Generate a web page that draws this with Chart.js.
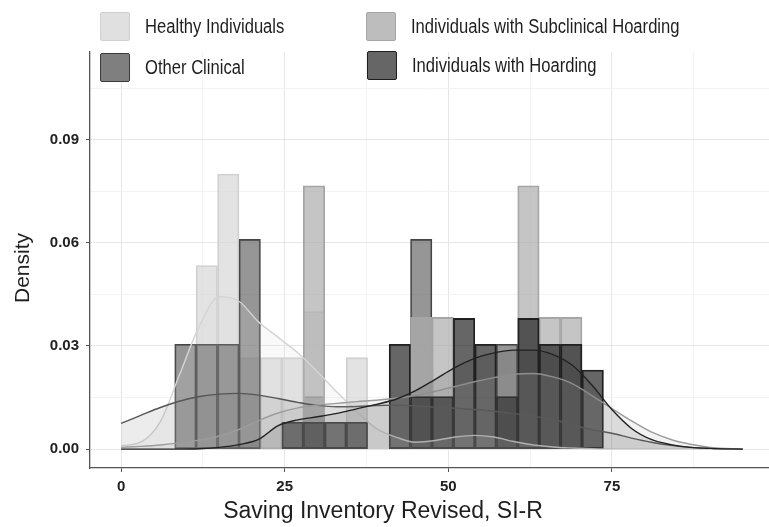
<!DOCTYPE html>
<html>
<head>
<meta charset="utf-8">
<script src="https://cdn.jsdelivr.net/npm/chart.js@4.4.1/dist/chart.umd.min.js"></script>
<style>
html,body{margin:0;padding:0;background:#fff;}
#wrap{position:relative;width:769px;height:527px;overflow:hidden;}
#c{position:absolute;left:0;top:0;}
.leg{position:absolute;display:flex;align-items:center;font-family:"Liberation Sans",sans-serif;font-size:20px;color:#1e1e1e;white-space:nowrap;}
.leg span{display:inline-block;transform:scaleX(0.83);transform-origin:left center;}
.key{width:30px;height:29px;box-sizing:border-box;border:1.5px solid;border-radius:2px;margin-right:15px;flex:none;}
.ttl{position:absolute;font-family:"Liberation Sans",sans-serif;color:#1e1e1e;white-space:nowrap;}
</style>
</head>
<body>
<div id="wrap">
<canvas id="c" width="769" height="527"></canvas>
<div id="legend"></div>
<div class="ttl" id="xtitle"></div>
<div class="ttl" id="ytitle"></div>
</div>
<script>
// ---------- data ----------
const groups = ["Healthy Individuals", "Other Clinical", "Individuals with Subclinical Hoarding", "Individuals with Hoarding"];
const xAxisTitle = "Saving Inventory Revised, SI-R";
const yAxisTitle = "Density";
const xTickLabels = [0, 25, 50, 75];
const yTickLabels = [0.00, 0.03, 0.06, 0.09];

// histogram bin centres (SI-R)
const binCentres = [0, 3.28, 6.55, 9.83, 13.10, 16.38, 19.66, 22.93, 26.21, 29.48,
                    32.76, 36.03, 39.31, 42.59, 45.86, 49.14, 52.41, 55.69, 58.97, 62.24,
                    65.52, 68.79, 72.07, 75.34, 78.62, 81.90, 85.17, 88.45, 91.72, 95.00];
// histogram densities per bin
const histHealthy     = [0,0,0,0,0.0534,0.080,0.0266,0.0266,0.0266,0.040, 0,0.0266,0,0,0,0,0,0,0,0, 0,0,0,0,0,0,0,0,0,0];
const histOther       = [0,0,0,0.0305,0.0305,0.0305,0.061,0,0,0.0153, 0,0,0,0,0.061,0,0,0,0.0305,0, 0,0,0,0,0,0,0,0,0,0];
const histSubclinical = [0,0,0,0,0,0,0,0,0,0.0766, 0,0,0,0,0.0383,0.0383,0,0,0,0.0766, 0.0383,0.0383,0,0,0,0,0,0,0,0];
const histHoarding    = [0,0,0,0,0,0,0,0,0.0078,0.0078, 0.0078,0.0078,0,0.0305,0.0153,0.0153,0.038,0.0305,0.0153,0.038, 0.0305,0.0305,0.023,0,0,0,0,0,0,0];

// kernel density curves
const densX = [0,3,6,9,12,15,18,21,24,27,30,33,36,39,42,45,48,51,54,57,60,63,66,69,72,75,78,81,84,87,90,95];
const densHealthy     = [0.001,0.002,0.008,0.022,0.036,0.0443,0.043,0.037,0.0325,0.028,0.0225,0.0165,0.011,0.006,0.0035,0.002,0.0025,0.0035,0.004,0.0035,0.0022,0.0012,0.0006,0.0003,0.0001,0,0,0,0,0,0,0];
const densOther       = [0.0075,0.0098,0.0121,0.014,0.0153,0.016,0.0162,0.0157,0.0147,0.0136,0.0127,0.0123,0.0124,0.0127,0.0128,0.0126,0.0122,0.0119,0.0115,0.011,0.0103,0.0096,0.0086,0.007,0.0056,0.0046,0.0032,0.002,0.0011,0.0005,0.0002,0];
const densSubclinical = [0.0005,0.0008,0.0012,0.0018,0.0026,0.0038,0.0057,0.0083,0.0105,0.012,0.0128,0.0133,0.0138,0.0142,0.0148,0.0156,0.0168,0.0182,0.0196,0.0208,0.0218,0.022,0.021,0.019,0.0155,0.0118,0.0082,0.005,0.0028,0.0014,0.0005,0];
const densHoarding    = [0,0,0,0,0.0001,0.0005,0.0013,0.0028,0.0068,0.0085,0.0094,0.0104,0.0117,0.013,0.0145,0.017,0.0203,0.0237,0.0264,0.028,0.0288,0.0288,0.0275,0.0243,0.0185,0.0115,0.006,0.0028,0.0013,0.0005,0.0002,0];

// ---------- styles ----------
const barFill   = ["rgba(215,215,215,0.7)", "rgba(100,100,100,0.68)", "rgba(172,172,172,0.7)", "rgba(30,30,30,0.68)"];
const barLine   = ["#cfcfcf", "#444444", "#a4a4a4", "#222222"];
const densFill  = ["rgba(215,215,215,0.16)", "rgba(100,100,100,0.12)", "rgba(172,172,172,0.14)", "rgba(30,30,30,0.11)"];
const densLine  = ["#d4d4d4", "#555555", "#9c9c9c", "#222222"];
const keyFill   = ["#e0e0e0", "#7f7f7f", "#bdbdbd", "#666666"];
const keyLine   = ["#d0d0d0", "#3a3a3a", "#a5a5a5", "#1e1e1e"];
const hists = [histHealthy, histOther, histSubclinical, histHoarding];
const dens  = [densHealthy, densOther, densSubclinical, densHoarding];

const datasets = [];
groups.forEach((g, i) => {
  datasets.push({
    type: 'bar', label: g, order: 20 - i,
    data: binCentres.map((x, k) => ({x: x, y: hists[i][k]})).filter(p => p.y > 0),
    backgroundColor: barFill[i], borderColor: barLine[i], borderWidth: 1.2, borderSkipped: false,
    grouped: false, barPercentage: 1, categoryPercentage: 1
  });
});
groups.forEach((g, i) => {
  datasets.push({
    type: 'line', label: g + " density", order: 10 - i,
    data: densX.map((x, k) => ({x: x, y: dens[i][k]})),
    fill: 'origin', backgroundColor: densFill[i], borderColor: densLine[i], borderWidth: 1.4,
    pointRadius: 0, cubicInterpolationMode: 'monotone'
  });
});

const xGrid = [0, 12.5, 25, 37.5, 50, 62.5, 75, 87.5];
const yGrid = [0, 0.015, 0.03, 0.045, 0.06, 0.075, 0.09, 0.105];
const isMajorX = v => xTickLabels.some(t => Math.abs(t - v) < 1e-9);
const isMajorY = v => yTickLabels.some(t => Math.abs(t - v) < 1e-9);

new Chart(document.getElementById('c'), {
  type: 'bar',
  data: {datasets},
  options: {
    responsive: false, animation: false, devicePixelRatio: 1,
    layout: {padding: {top: 52, right: 0, left: 0, bottom: 0}},
    plugins: {legend: {display: false}, tooltip: {enabled: false}},
    scales: {
      x: {
        type: 'linear', min: -4.75, max: 99, offset: false,
        afterBuildTicks: s => { s.ticks = xGrid.map(v => ({value: v})); },
        afterFit: s => { s.height = 59; },
        ticks: {autoSkip: false, maxRotation: 0, padding: 6, color: '#222',
          font: {family: 'Liberation Sans', size: 15, weight: 'bold'},
          callback: v => isMajorX(v) ? String(v) : ''},
        grid: {offset: false, lineWidth: 1, tickLength: 4,
          color: c => isMajorX(c.tick.value) ? '#e6e6e6' : '#f3f3f3',
          tickColor: c => isMajorX(c.tick.value) ? '#555' : 'rgba(0,0,0,0)'},
        border: {color: '#555', width: 1.3}
      },
      y: {
        type: 'linear', min: -0.0055, max: 0.1155,
        afterBuildTicks: s => { s.ticks = yGrid.map(v => ({value: v})); },
        afterFit: s => { s.width = 90; },
        ticks: {autoSkip: false, padding: 7, color: '#222',
          font: {family: 'Liberation Sans', size: 15, weight: 'bold'},
          callback: v => isMajorY(v) ? v.toFixed(2) : ''},
        grid: {lineWidth: 1, tickLength: 4,
          color: c => isMajorY(c.tick.value) ? '#e6e6e6' : '#f3f3f3',
          tickColor: c => isMajorY(c.tick.value) ? '#555' : 'rgba(0,0,0,0)'},
        border: {color: '#555', width: 1.3}
      }
    }
  }
});

// ---------- legend (2 x 2, column-wise order) ----------
const legendPos = [[100, 12], [100, 53], [366, 12], [367, 51]];
const legend = document.getElementById('legend');
groups.forEach((g, i) => {
  const d = document.createElement('div');
  d.className = 'leg';
  d.style.left = legendPos[i][0] + 'px';
  d.style.top = legendPos[i][1] + 'px';
  const k = document.createElement('div');
  k.className = 'key';
  k.style.background = keyFill[i];
  k.style.borderColor = keyLine[i];
  const t = document.createElement('span');
  t.textContent = g;
  d.appendChild(k); d.appendChild(t);
  legend.appendChild(d);
});

const xt = document.getElementById('xtitle');
xt.textContent = xAxisTitle;
xt.style.fontSize = '23px';
xt.style.left = '383px'; xt.style.top = '510px';
xt.style.transform = 'translate(-50%,-50%)';
const yt = document.getElementById('ytitle');
yt.textContent = yAxisTitle;
yt.style.fontSize = '21px';
yt.style.left = '22px'; yt.style.top = '268px';
yt.style.transform = 'translate(-50%,-50%) rotate(-90deg)';
</script>
</body>
</html>
